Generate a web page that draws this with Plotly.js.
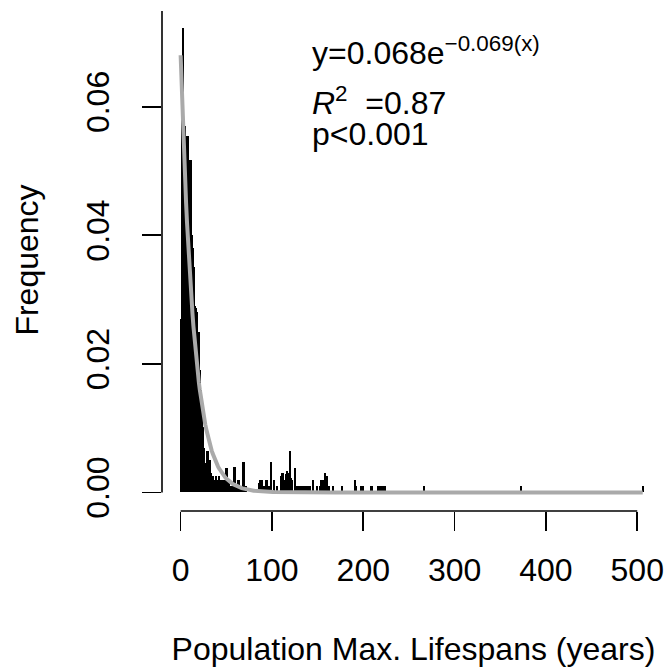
<!DOCTYPE html>
<html>
<head>
<meta charset="utf-8">
<script src="https://cdn.plot.ly/plotly-3.0.1.min.js"></script>
<style>html,body{margin:0;padding:0;background:#fff;}#chart{width:666px;height:668px;}</style>
</head>
<body>
<div id="chart"></div>
<script>
// Population maximum lifespan (years) and relative frequency
const lifespanYears = [
  0,1,2,3,4,5,6,7,8,9,10,11,12,13,14,15,16,17,18,19,20,21,22,23,24,25,26,27,28,29,
  30,31,32,33,34,35,36,37,38,39,40,41,42,43,44,45,46,47,48,50,51,52,53,55,56,58,59,60,
  62,63,64,66,68,69,70,72,86,87,88,89,91,93,95,97,99,102,105,110,111,112,113,115,116,117,
  118,120,121,122,125,126,128,130,132,134,136,138,140,142,145,149,153,154,156,158,160,163,
  167,177,191,192,197,200,209,216,218,220,222,224,266,373,506
];
const frequency = [
  0.027,0.060,0.065,0.0722,0.057,0.057,0.0555,0.0555,0.0555,0.0517,0.0517,0.0517,0.040,0.038,0.035,
  0.035,0.029,0.0287,0.028,0.025,0.025,0.019,0.016,0.013,0.0102,0.005,0.0069,0.004,0.0045,0.0064,
  0.0064,0.003,0.005,0.003,0.002,0.0025,0.002,0.001,0.002,0.0025,0.001,0.002,0.0026,0.002,0.001,
  0.002,0.001,0.001,0.002,0.0038,0.0038,0.002,0.0016,0.001,0.001,0.004,0.004,0.002,
  0.001,0.002,0.002,0.001,0.0048,0.0048,0.001,0.001,0.0015,0.002,0.002,0.002,0.001,0.002,0.002,0.001,
  0.0048,0.002,0.001,0.0025,0.003,0.003,0.002,0.0028,0.0034,0.002,
  0.003,0.0065,0.0022,0.002,0.0038,0.001,0.001,0.001,0.001,0.001,0.001,0.001,0.001,0.001,0.002,0.001,
  0.001,0.002,0.002,0.003,0.0025,0.001,
  0.001,0.001,0.002,0.001,0.001,0.001,0.001,0.001,0.001,0.001,0.001,0.001,0.001,0.001,0.001
];
// Fitted model shown in the chart: y = 0.068 e^(-0.069 x)
const fitA = 0.068;
const fitB = 0.069;
const xTickVals = [0,100,200,300,400,500];
const yTickVals = [0,0.02,0.04,0.06];
const yTickText = ['0.00','0.02','0.04','0.06'];

const xMax = Math.max(...lifespanYears);
const fitX = [];
const fitY = [];
for (let x = 0; x <= xMax; x += 1) { fitX.push(x); fitY.push(fitA * Math.exp(-fitB * x)); }

const FONT = 'Liberation Sans, Arial, sans-serif';

const traces = [
  {type:'bar', x: lifespanYears, y: frequency, width: 2.2,
   marker:{color:'#000000', line:{width:0}}, hoverinfo:'x+y', showlegend:false},
  {type:'scatter', mode:'lines', x: fitX, y: fitY,
   line:{color:'#aaaaaa', width:4}, hoverinfo:'skip', showlegend:false}
];

const layout = {
  width:666, height:668,
  margin:{l:162, r:1, t:9, b:157, pad:0},
  paper_bgcolor:'#ffffff', plot_bgcolor:'#ffffff',
  font:{family:FONT, size:32, color:'#000000'},
  barmode:'overlay', bargap:0,
  showlegend:false,
  xaxis:{
    range:[-20.4, 530.4], autorange:false, fixedrange:true,
    showgrid:false, zeroline:false, showline:false,
    tickmode:'array', tickvals:xTickVals, ticktext:xTickVals.map(String),
    ticks:'outside', ticklen:19, tickwidth:1.6, tickcolor:'#000000',
    ticklabelstandoff:12,
    tickfont:{family:FONT, size:32, color:'#000000'},
    title:{text:'Population Max. Lifespans (years)', font:{family:FONT, size:32, color:'#000000'}, standoff:50},
    automargin:false
  },
  yaxis:{
    range:[-0.00289, 0.0752], autorange:false, fixedrange:true,
    showgrid:false, zeroline:false, showline:false,
    tickmode:'array', tickvals:yTickVals, ticktext:yTickText,
    ticks:'outside', ticklen:19, tickwidth:1.6, tickcolor:'#000000',
    tickangle:-90, ticklabelstandoff:20,
    tickfont:{family:FONT, size:32, color:'#000000'},
    title:{text:'Frequency', font:{family:FONT, size:32, color:'#000000'}, standoff:32},
    automargin:false
  },
  shapes:[
    {type:'line', xref:'x', yref:'paper', x0:0, x1:500, y0:0, y1:0, line:{color:'#000000', width:1.6}},
    {type:'line', xref:'paper', yref:'y', x0:0, x1:0, y0:0, y1:0.0749, line:{color:'#000000', width:1.6}}
  ],
  annotations:[
    {xref:'paper', yref:'paper', x:0.2942, y:0.8725, xanchor:'left', yanchor:'bottom', showarrow:false,
     text:'y=0.068e<sup>\u22120.069(x)</sup>', font:{family:FONT, size:32, color:'#000000'}},
    {xref:'paper', yref:'paper', x:0.2942, y:0.7729, xanchor:'left', yanchor:'bottom', showarrow:false,
     text:'<i>R</i><sup>2</sup>\u00a0\u00a0=0.87', font:{family:FONT, size:32, color:'#000000'}},
    {xref:'paper', yref:'paper', x:0.2942, y:0.7112, xanchor:'left', yanchor:'bottom', showarrow:false,
     text:'p&lt;0.001', font:{family:FONT, size:32, color:'#000000'}}
  ]
};

Plotly.newPlot('chart', traces, layout, {displayModeBar:false, staticPlot:true});
</script>
</body>
</html>
